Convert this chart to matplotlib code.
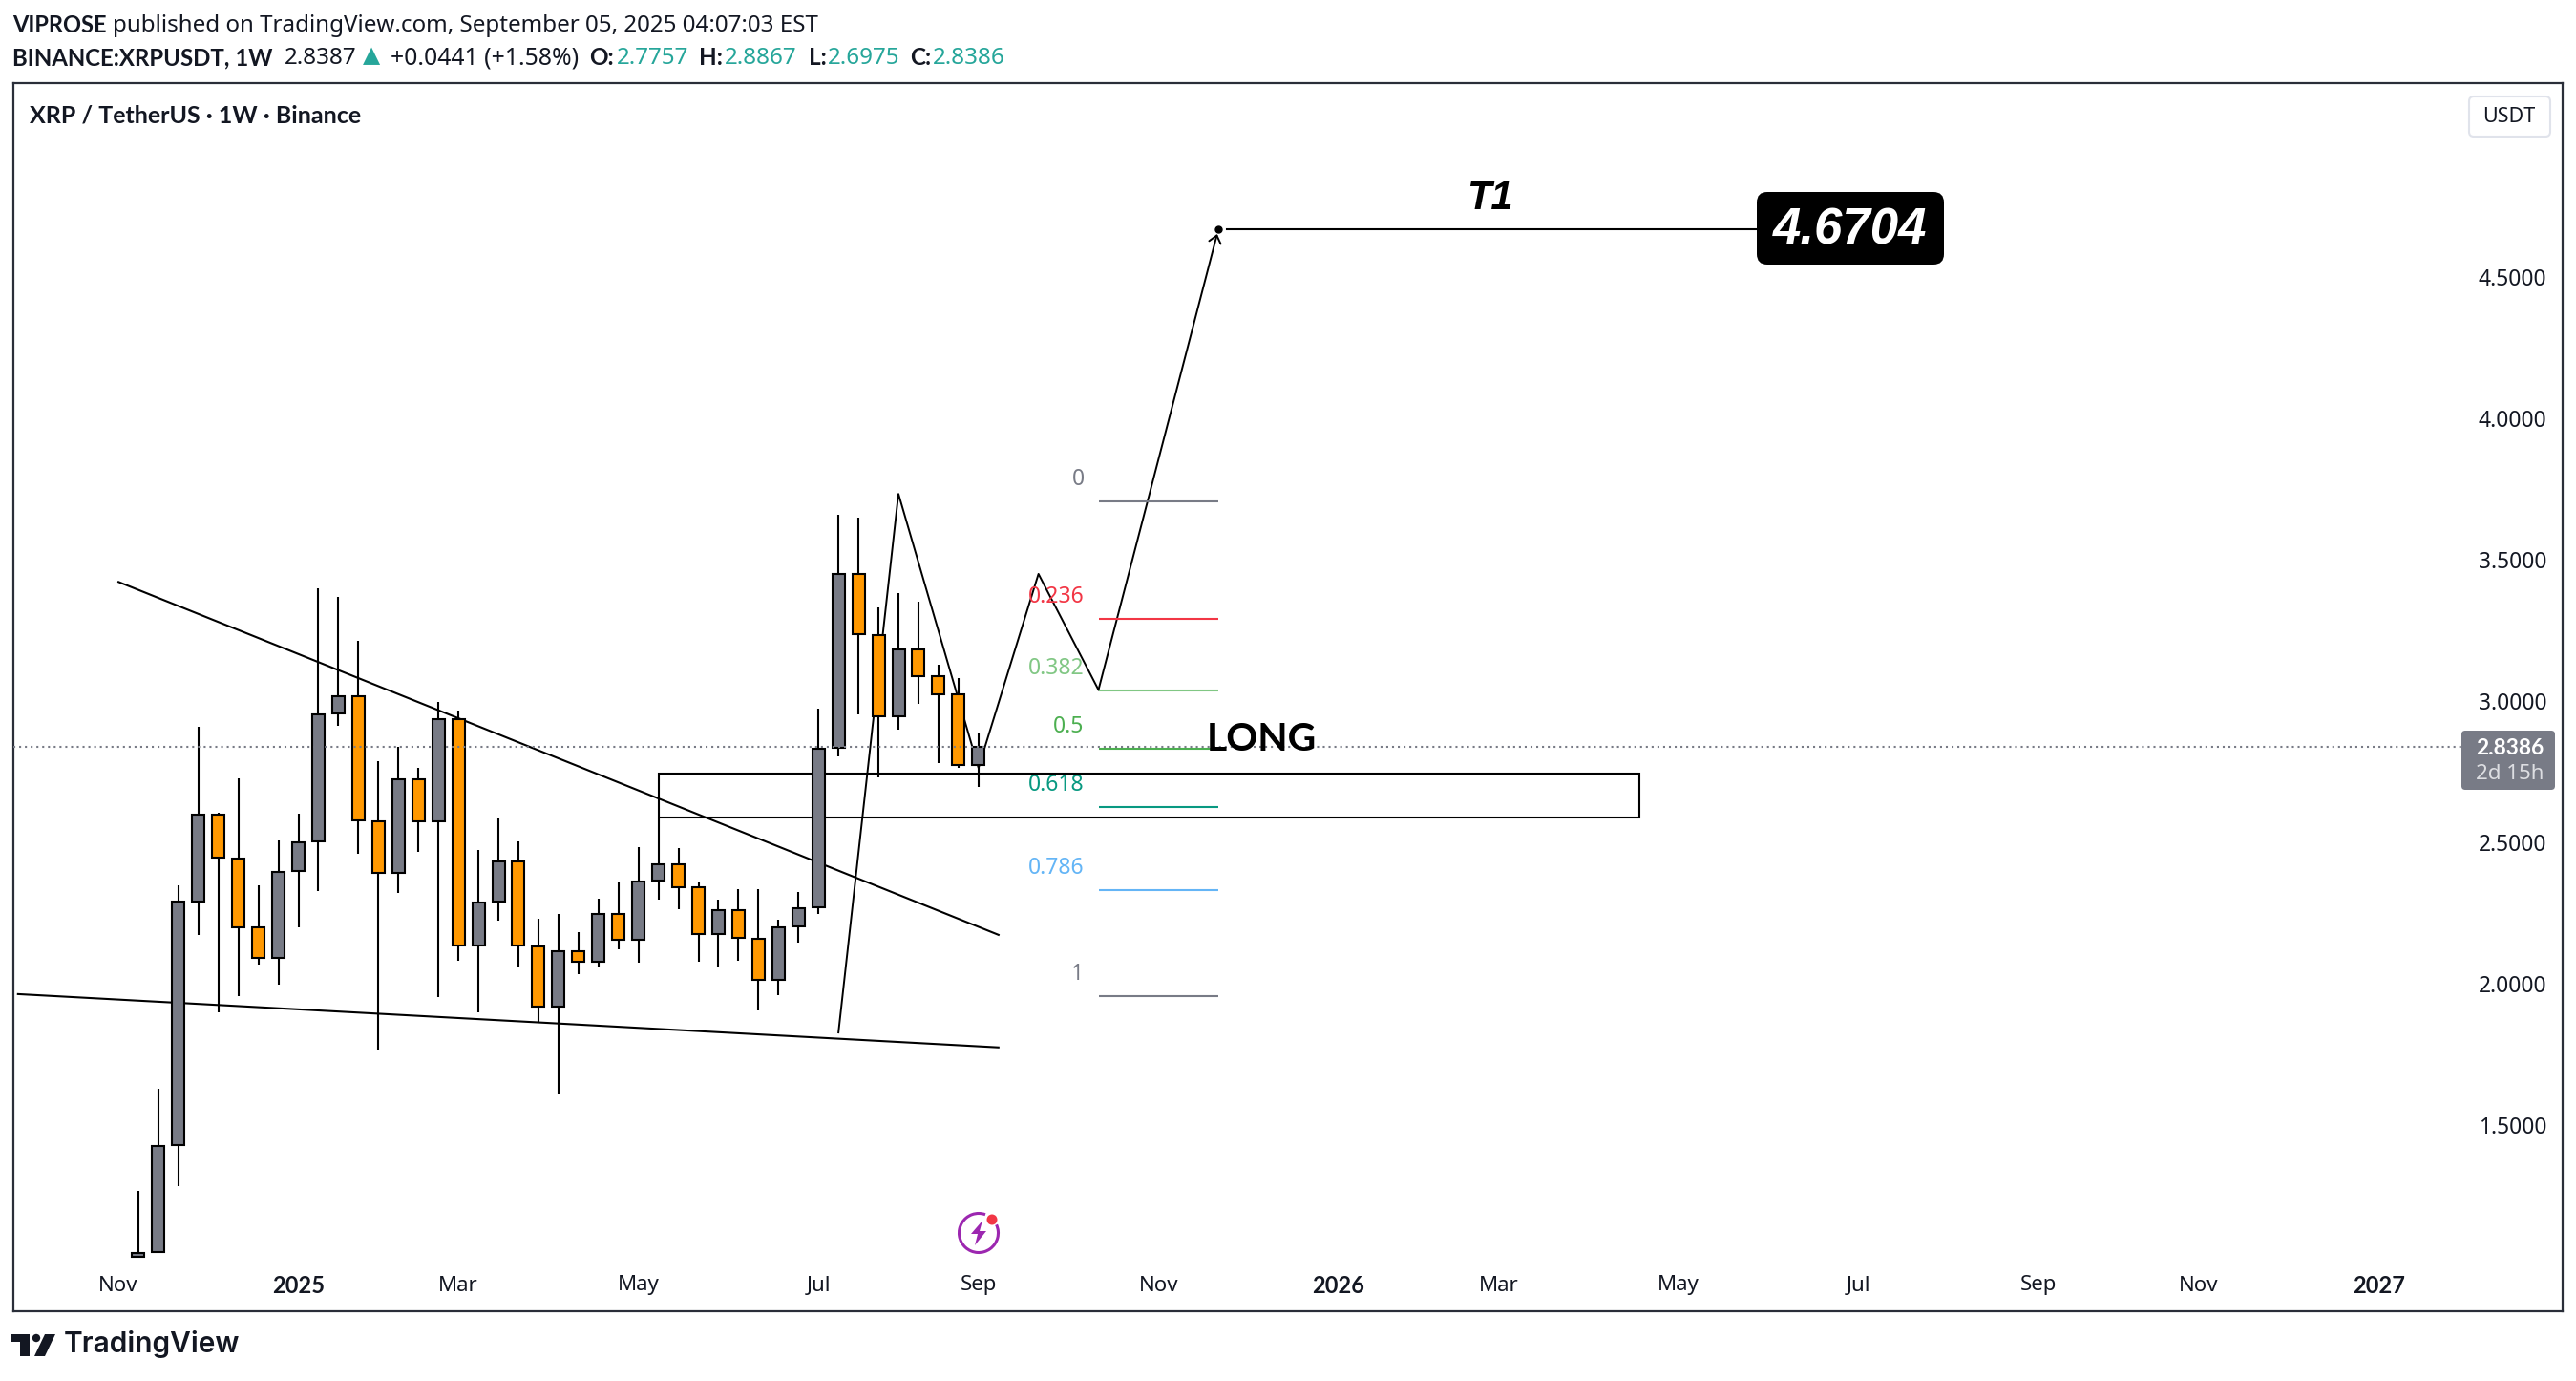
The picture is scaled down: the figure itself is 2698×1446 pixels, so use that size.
import matplotlib
matplotlib.use('Agg')
import matplotlib.pyplot as plt
from matplotlib.patches import Arc, Circle, FancyBboxPatch, Polygon, Rectangle
from matplotlib.transforms import IdentityTransform

plt.rcParams['font.family'] = ['Noto Sans', 'DejaVu Sans']

W, H = 2698, 1446

# weekly candles XRPUSDT
opens = [1.035, 1.051, 1.430, 2.292, 2.599, 2.444, 2.201, 2.091, 2.399, 2.505, 2.956,
         3.018, 2.576, 2.391, 2.725, 2.575, 2.937, 2.136, 2.292, 2.434, 2.133, 1.919,
         2.117, 2.078, 2.248, 2.156, 2.366, 2.424, 2.341, 2.176, 2.261, 2.159, 2.015,
         2.203, 2.271, 2.835, 3.451, 3.235, 2.947, 3.183, 3.089, 3.023, 2.7757]
highs = [1.268, 1.629, 2.348, 2.910, 2.606, 2.727, 2.349, 2.507, 2.602, 3.400, 3.369,
         3.214, 2.788, 2.839, 2.764, 2.998, 2.967, 2.474, 2.588, 2.504, 2.230, 2.246,
         2.183, 2.300, 2.361, 2.484, 2.586, 2.479, 2.358, 2.297, 2.334, 2.334, 2.226,
         2.324, 2.973, 3.658, 3.648, 3.332, 3.381, 3.351, 3.128, 3.081, 2.8867]
lows = [1.035, 1.051, 1.283, 2.174, 1.900, 1.958, 2.069, 1.996, 2.201, 2.329, 2.911,
        2.461, 1.769, 2.323, 2.468, 1.952, 2.082, 1.900, 2.222, 2.059, 1.866, 1.613,
        2.035, 2.059, 2.123, 2.076, 2.299, 2.265, 2.079, 2.059, 2.083, 1.907, 1.961,
        2.147, 2.248, 2.806, 2.954, 2.729, 2.900, 2.992, 2.782, 2.763, 2.6975]
closes = [1.049, 1.427, 2.290, 2.599, 2.446, 2.199, 2.091, 2.397, 2.501, 2.954, 3.018,
          2.579, 2.391, 2.725, 2.575, 2.937, 2.136, 2.288, 2.434, 2.136, 1.919, 2.117,
          2.078, 2.248, 2.156, 2.363, 2.424, 2.341, 2.176, 2.261, 2.163, 2.015, 2.200,
          2.269, 2.833, 3.451, 3.237, 2.947, 3.183, 3.089, 3.023, 2.774, 2.8386]
last_close = 2.8386

price_ticks = [1.5, 2.0, 2.5, 3.0, 3.5, 4.0, 4.5]
time_pos = [-1, 8, 16, 25, 34, 42, 51, 60, 68, 77, 86, 95, 103, 112]
time_labels = ['Nov', '2025', 'Mar', 'May', 'Jul', 'Sep', 'Nov', '2026', 'Mar', 'May', 'Jul', 'Sep', 'Nov', '2027']

# drawings
upper_x = [-1.04, 43.05]
upper_y = [3.423, 2.172]
lower_x = [-6.07, 43.05]
lower_y = [1.964, 1.775]
zig_x = [35, 38, 42, 45, 48]
zig_y = [1.828, 3.733, 2.764, 3.45, 3.04]
target_x = 54
target = 4.6704
zone_x = [26, 75.04]
zone_y = [2.590, 2.745]

fib_labels = ['0', '0.236', '0.382', '0.5', '0.618', '0.786', '1']
fib_prices = [3.705, 3.292, 3.037, 2.831, 2.625, 2.331, 1.957]
fib_colors = ['#787b86', '#f23645', '#81c784', '#4caf50', '#089981', '#64b5f6', '#787b86']
fib_x = [48, 54]

GREY = '#787b86'
ORANGE = '#ff9800'
DARK = '#131722'
TEAL = '#26a69a'
BOLD = ['Lato', 'DejaVu Sans']

fig = plt.figure(figsize=(W / 100, H / 100), dpi=100, facecolor='white')
ax = fig.add_axes([14 / W, 1 - 1373 / H, 2670 / W, 1286 / H])
ax.set_xlim(-6.25, 121.2)
ax.set_ylim(0.842, 5.186)
for s in ax.spines.values():
    s.set_color('#2a2e39')
    s.set_linewidth(1.6)


def ftext(x, y, s, **kw):
    # x, y in image pixels
    kw.setdefault('va', 'center')
    kw.setdefault('color', DARK)
    return fig.text(x / W, 1 - y / H, s, **kw)


def pix(x, y):
    return (x, H - y)


# drawings are under the candles
ax.plot(upper_x, upper_y, color='black', lw=1.5, zorder=2, solid_capstyle='butt')
ax.plot(lower_x, lower_y, color='black', lw=1.5, zorder=2, solid_capstyle='butt')
ax.add_patch(Rectangle((zone_x[0], zone_y[0]), zone_x[1] - zone_x[0], zone_y[1] - zone_y[0],
                       fill=False, edgecolor='black', lw=1.5, zorder=2))
ax.plot(zig_x, zig_y, color='black', lw=1.4, zorder=2)
ax.annotate('', xy=(target_x, target), xytext=(zig_x[-1], zig_y[-1]), zorder=2,
            arrowprops=dict(arrowstyle='->,head_length=0.55,head_width=0.45', color='black', lw=1.4,
                            shrinkA=0, shrinkB=4))
ax.plot([target_x], [target], 'o', color='black', ms=5, zorder=3)
ax.plot([target_x + 0.4, 85.5], [target, target], color='black', lw=1.5, zorder=2)

for lab, p, c in zip(fib_labels, fib_prices, fib_colors):
    ax.plot(fib_x, [p, p], color=c, lw=1.5, zorder=2, solid_capstyle='butt')
    ax.annotate(lab, xy=(fib_x[0], p), xytext=(-10.8, 16.6), textcoords='offset points',
                ha='right', va='center', color=c, fontsize=16.5, zorder=2)

# candles
for i in range(len(opens)):
    o, h, l, c = opens[i], highs[i], lows[i], closes[i]
    ax.vlines(i, l, h, color='black', lw=1.5, zorder=4)
    ax.bar(i, abs(c - o), bottom=min(o, c), width=0.62, color=GREY if c >= o else ORANGE,
           edgecolor='black', linewidth=1.5, zorder=5)

ax.axhline(last_close, xmax=(2578 - 14) / 2670, color=GREY, lw=1.5, ls=(0, (1, 1.9)), zorder=6)

ax.text(53.4, 2.865, 'LONG', ha='left', va='center', fontsize=29.4, fontweight='bold', family=BOLD,
        color='black', zorder=7)
ax.text(67.55, 4.778, 'T1', ha='center', va='center', family='Liberation Sans', style='italic',
        fontweight='bold', fontsize=30, color='black', zorder=7)
fig.add_artist(FancyBboxPatch(pix(1840, 277), 196, 76, boxstyle='round,pad=0,rounding_size=11',
                              fc='black', ec='black', lw=0, transform=IdentityTransform()))
ftext(1938, 241, '4.6704', ha='center', family='Liberation Sans', style='italic',
      fontweight='bold', fontsize=38, color='white')

# axes ticks live inside the frame
ax.set_yticks(price_ticks)
ax.set_yticklabels(['%.4f' % p for p in price_ticks])
ax.tick_params(axis='y', left=False, labelleft=False, right=False, labelright=True, pad=-15.5,
               labelsize=16.4, labelcolor=DARK)
for t in ax.get_yticklabels():
    t.set_ha('right')
ax.set_xticks(time_pos)
ax.set_xticklabels(time_labels)
ax.tick_params(axis='x', bottom=False, pad=-30.5, labelsize=16, labelcolor=DARK)
for t in ax.get_xticklabels():
    if t.get_text() in ('2025', '2026', '2027'):
        t.set_fontweight('bold')
        t.set_family(BOLD)
        t.set_fontsize(17)

# header
ftext(13, 27, 'VIPROSE', fontsize=17, fontweight='bold', family=BOLD)
ftext(118, 27, 'published on TradingView.com, September 05, 2025 04:07:03 EST', fontsize=17.4)
ftext(13, 61, 'BINANCE:XRPUSDT, 1W', fontsize=17.3, fontweight='bold', family=BOLD)
ftext(298, 61, '2.8387', fontsize=17.4)
ftext(380, 59, '▲', fontsize=17, color=TEAL)
ftext(409, 61, '+0.0441 (+1.58%)', fontsize=17.8)
for x_lab, x_val, lab, val in [(617, 646, 'O:', '2.7757'), (732, 759, 'H:', '2.8867'),
                               (847, 867, 'L:', '2.6975'), (953, 977, 'C:', '2.8386')]:
    ftext(x_lab, 61, lab, fontsize=17.5, fontweight='bold', family=BOLD)
    ftext(x_val, 61, val, fontsize=17.4, color=TEAL)

ftext(31, 121, 'XRP / TetherUS · 1W · Binance', fontsize=18, fontweight='bold', family=BOLD)

# right side currency button and last price tag
idt = IdentityTransform()
fig.add_artist(FancyBboxPatch(pix(2586, 143), 85, 42, boxstyle='round,pad=0,rounding_size=5',
                              fc='white', ec='#e0e3eb', lw=1.5, transform=idt))
ftext(2628, 122, 'USDT', fontsize=15.5, ha='center')
fig.add_artist(FancyBboxPatch(pix(2578, 827), 98, 62, boxstyle='round,pad=0,rounding_size=4',
                              fc=GREY, ec=GREY, lw=0, transform=idt))
ftext(2629, 783, '2.8386', fontsize=16.4, color='white', ha='center', fontweight='bold', family=BOLD)
ftext(2629, 811, '2d 15h', fontsize=16, color='#dddee2', ha='center')

# lightning icon
fig.add_artist(Arc(pix(1025, 1291), 41, 41, theta1=70, theta2=385, ec='#9c27b0', lw=2.2, transform=idt))
fig.add_artist(Circle(pix(1039, 1277), 5.5, fc='#f23645', ec='none', transform=idt))
bolt = [(4, 13), (-8, -1), (-1, -1), (-4, -13), (8, 2), (1, 2)]
fig.add_artist(Polygon([pix(1025 + a, 1291 - b) for a, b in bolt], fc='#9c27b0', ec='none', transform=idt))

# logo
fig.add_artist(Polygon([pix(12, 1397), pix(31, 1397), pix(31, 1420), pix(21, 1420), pix(21, 1405), pix(12, 1405)],
                       fc=DARK, ec='none', transform=idt))
fig.add_artist(Circle(pix(38, 1401), 4.2, fc=DARK, ec='none', transform=idt))
fig.add_artist(Polygon([pix(47, 1397), pix(58, 1397), pix(47, 1420), pix(36, 1420)],
                       fc=DARK, ec='none', transform=idt))
ftext(67, 1408, 'TradingView', fontsize=21.5, family='Inter', fontweight='semibold')

fig.savefig('out.png', dpi=100)
